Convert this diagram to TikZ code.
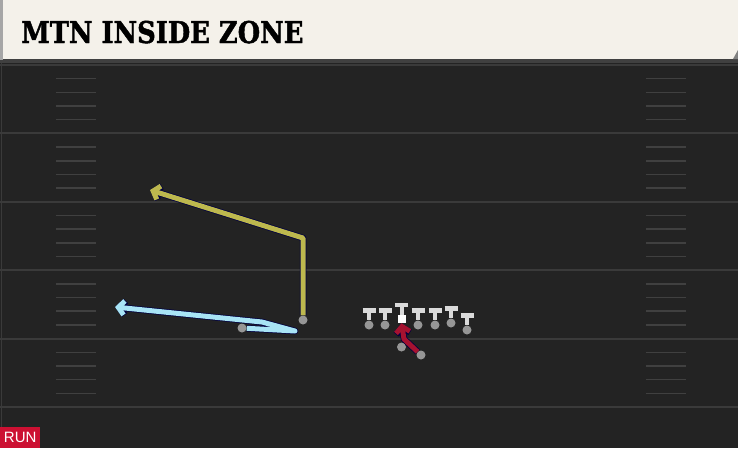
\documentclass[tikz,border=0pt]{standalone}
\usepackage{fontspec}
\setmainfont{Liberation Sans}
\newfontfamily\slabfont{DejaVu Serif}[BoldFeatures={FakeBold=1.6}]
\usetikzlibrary{arrows.meta}
\definecolor{field}{RGB}{35,35,35}
\definecolor{yardline}{RGB}{58,58,58}
\definecolor{hashline}{RGB}{64,64,64}
\definecolor{cream}{RGB}{244,241,234}
\definecolor{runred}{RGB}{204,16,50}
\definecolor{routeyellow}{RGB}{189,184,78}
\definecolor{routecyan}{RGB}{168,228,245}
\definecolor{routered}{RGB}{165,18,48}
\definecolor{playergray}{RGB}{150,150,150}
\definecolor{teegray}{RGB}{218,218,218}

\begin{document}
\begin{tikzpicture}[x=1pt,y=-1pt,
   player/.style={circle,fill=playergray,inner sep=0pt,minimum size=9pt},
   tee/.style={teegray,line width=4pt},
   route/.style={line width=5pt,line join=round,
      -{Straight Barb[length=6pt,width=14pt]},
      preaction={draw=black!75!blue,line width=6.5pt,line join=round}},
   hash/.style={hashline,line width=1.5pt}]
   \useasboundingbox (0,0) rectangle (738,448);
   \fill[field] (0,0) rectangle (738,448);
   % header
   \fill[black!75] (0,56) rectangle (738,63);
   \fill[gray!70] (0,0) rectangle (3,60);
   \fill[cream] (3,0) rectangle (738,59);
   \fill[gray] (733,59) -- (738,50) -- (738,59) -- cycle;
   \node[anchor=base west,inner sep=0pt] (title) at (21,43)
      {\slabfont\bfseries\fontsize{30}{30}\selectfont\scalebox{0.86}[1]{MTN INSIDE ZONE}};
   % field lines
   \draw[yardline,line width=1.5pt] (1.5,63) -- (1.5,448);
   \foreach \y in {65,133.4,201.8,270.2,338.6,407}
      \draw[yardline,line width=2pt] (0,\y) -- (738,\y);
   \foreach \y in {65,133.4,201.8,270.2,338.6}
      \foreach \f in {13.7,27.4,41,54.7} {
         \draw[hash] (56,\y+\f) -- (96,\y+\f);
         \draw[hash] (646,\y+\f) -- (686,\y+\f);
      }
   % players
   \node[player] (lt) at (369,325) {};
   \node[player] (lg) at (385,325) {};
   \node[fill=white,minimum size=8pt,inner sep=0pt] (c) at (401.5,319) {};
   \node[player] (rg) at (418,325) {};
   \node[player] (rt) at (435,325) {};
   \node[player] (te) at (451,323) {};
   \node[player] (y) at (467,330) {};
   \node[player] (qb) at (401.5,347) {};
   \node[player] (rb) at (421,355) {};
   \node[player] (x) at (303,320) {};
   \node[player] (h) at (242,328) {};
   \foreach \p in {lt,lg,c,rg,rt,te,y} {
      \draw[tee] (\p.north) -- ++(0,-10);
      \draw[tee,line width=4.5pt] (\p.north) ++(-6.5,-10) -- ++(13,0);
   }
   % routes
   \coordinate (x1) at (303,238);
   \coordinate (x2) at (150,190);
   \draw[route,routeyellow] (x) -- (x1) -- (x2);
   \coordinate (h1) at (295,331);
   \coordinate (h2) at (262,322);
   \coordinate (h3) at (115,307);
   \draw[route,routecyan] (h) -- (h1) -- (h2) -- (h3);
   \coordinate (rb1) at (404,339);
   \draw[route,routered] (rb) -- (rb1) -- (c.south);
   \node[fill=runred,text=white,anchor=south west,minimum width=40pt,
      minimum height=21pt,inner sep=0pt] (run) at (0,448)
      {\fontsize{15}{15}\selectfont RUN};
\end{tikzpicture}
\end{document}
